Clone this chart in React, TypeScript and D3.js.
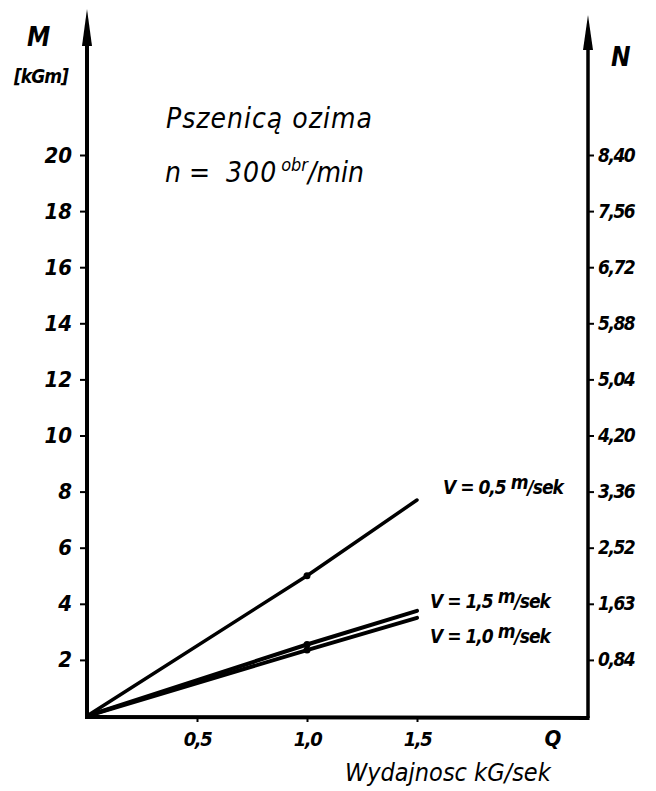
import React, { useEffect, useRef } from "react";
import * as d3 from "d3";

const flow = [0, 1.0, 1.5];
const torqueV05 = [0, 5.0, 7.7];
const torqueV15 = [0, 2.55, 3.75];
const torqueV10 = [0, 2.35, 3.5];
const mTicks = [2, 4, 6, 8, 10, 12, 14, 16, 18, 20];
const nTickLabels = ["0,84", "1,63", "2,52", "3,36", "4,20", "5,04", "5,88", "6,72", "7,56", "8,40"];
const xTicks = [0.5, 1.0, 1.5];
const xTickLabels = ["0,5", "1,0", "1,5"];

const FONT = "'DejaVu Sans Condensed', 'Liberation Sans Narrow', sans-serif";

const App = () => {
  const ref = useRef<SVGSVGElement>(null);

  useEffect(() => {
    const svg = d3.select(ref.current);
    svg.selectAll("*").remove();

    const x0 = 87;
    const xRight = 588;
    const yBase = 716;

    const x = d3.scaleLinear().domain([0, 1.5]).range([x0, 417]);
    const y = d3.scaleLinear().domain([0, 20]).range([yBase, 155]);
    const n = d3.scaleLinear().domain([0, 8.4]).range([yBase, 155]);

    const g = svg.append("g").attr("font-family", FONT).attr("font-style", "italic")
      .attr("font-weight", "bold");

    // axes lines + arrows
    g.append("line").attr("x1", x0).attr("x2", x0).attr("y1", yBase + 2).attr("y2", 40)
      .attr("stroke", "#000").attr("stroke-width", 4);
    g.append("path").attr("d", `M${x0 - 5},46 L${x0},9 L${x0 + 5},46 Z`).attr("fill", "#000");
    g.append("line").attr("x1", xRight).attr("x2", xRight).attr("y1", yBase + 2).attr("y2", 45)
      .attr("stroke", "#000").attr("stroke-width", 3.5);
    g.append("path").attr("d", `M${xRight - 5},50 L${xRight},15 L${xRight + 5},50 Z`).attr("fill", "#000");
    g.append("line").attr("x1", x0 - 2).attr("x2", xRight + 1.5).attr("y1", yBase + 1).attr("y2", yBase + 2)
      .attr("stroke", "#000").attr("stroke-width", 4);

    const styleAxis = (sel: any, size: number) => {
      sel.select(".domain").remove();
      sel.selectAll(".tick line").attr("stroke", "#000").attr("stroke-width", 2);
      sel.selectAll(".tick text")
        .attr("font-family", FONT)
        .attr("font-style", "italic")
        .attr("font-weight", "bold")
        .attr("font-size", size)
        .attr("fill", "#000");
    };

    const left = g.append("g").attr("transform", `translate(${x0 - 2},0)`)
      .call(d3.axisLeft(y).tickValues(mTicks).tickSize(5).tickPadding(8).tickFormat((d: any) => `${d}`));
    styleAxis(left, 22);

    const right = g.append("g").attr("transform", `translate(${xRight + 1},0)`)
      .call(d3.axisRight(n).tickValues(nTickLabels.map((_, i) => 0.84 * (i + 1)))
        .tickSize(5).tickPadding(4).tickFormat((_: any, i: number) => nTickLabels[i]));
    styleAxis(right, 19);
    right.selectAll(".tick text").attr("letter-spacing", -1.5);

    const bottom = g.append("g").attr("transform", `translate(0,${yBase + 2})`)
      .call(d3.axisBottom(x).tickValues(xTicks).tickSize(4).tickPadding(10)
        .tickFormat((_: any, i: number) => xTickLabels[i]));
    styleAxis(bottom, 20);
    bottom.selectAll(".tick text").attr("letter-spacing", -1.5);

    // data lines
    const line = d3.line<number>().x((_, i) => x(flow[i])).y((d) => y(d));
    const series = [
      { v: torqueV05, w: 3.5 },
      { v: torqueV15, w: 4 },
      { v: torqueV10, w: 4 },
    ];
    g.selectAll("path.series").data(series).join("path")
      .attr("class", "series")
      .attr("d", (d) => line(d.v))
      .attr("fill", "none")
      .attr("stroke", "#000")
      .attr("stroke-width", (d) => d.w)
      .attr("stroke-linecap", "round");

    // measurement dots at 1.0
    g.selectAll("circle.pt").data(series).join("circle")
      .attr("class", "pt")
      .attr("cx", x(flow[1]))
      .attr("cy", (d) => y(d.v[1]))
      .attr("r", 3.5)
      .attr("fill", "#000");

    // text labels
    const txt = (tx: number, ty: number, s: string, size: number, anchor = "start") =>
      g.append("text").attr("x", tx).attr("y", ty).attr("font-size", size)
        .attr("text-anchor", anchor).attr("fill", "#000").text(s);

    txt(27, 46, "M", 26);
    txt(14, 83, "[kGm]", 19).attr("letter-spacing", -1);
    txt(611, 66, "N", 26);
    txt(166, 128, "Pszenicą  ozima", 28).attr("font-weight", "normal").attr("letter-spacing", 1);
    const t2 = g.append("text").attr("x", 165).attr("y", 182).attr("font-size", 28)
      .attr("font-weight", "normal").attr("fill", "#000");
    t2.append("tspan").text("n = ");
    t2.append("tspan").attr("dx", 8).attr("letter-spacing", 1).text("300");
    t2.append("tspan").attr("font-size", 18).attr("dy", -11).attr("dx", 4).text("obr");
    t2.append("tspan").attr("dy", 11).text("/min");

    const vLabel = (tx: number, ty: number, val: string) => {
      const t = g.append("text").attr("x", tx).attr("y", ty).attr("font-size", 19).attr("fill", "#000")
        .attr("letter-spacing", -1);
      t.append("tspan").text(`V = ${val} `);
      t.append("tspan").attr("dy", -5).text("m");
      t.append("tspan").attr("dy", 5).text("/sek");
    };
    vLabel(443, 494, "0,5");
    vLabel(430, 608, "1,5");
    vLabel(430, 643, "1,0");

    txt(553, 746, "Q", 22, "middle");
    txt(345, 781, "Wydajnosc kG/sek", 25).attr("font-weight", "normal");
  }, []);

  return (
    <div>
      <svg ref={ref} width={656} height={791}
        style={{ position: "absolute", left: 0, top: 0, background: "#fff" }} />
    </div>
  );
};

export default App;
